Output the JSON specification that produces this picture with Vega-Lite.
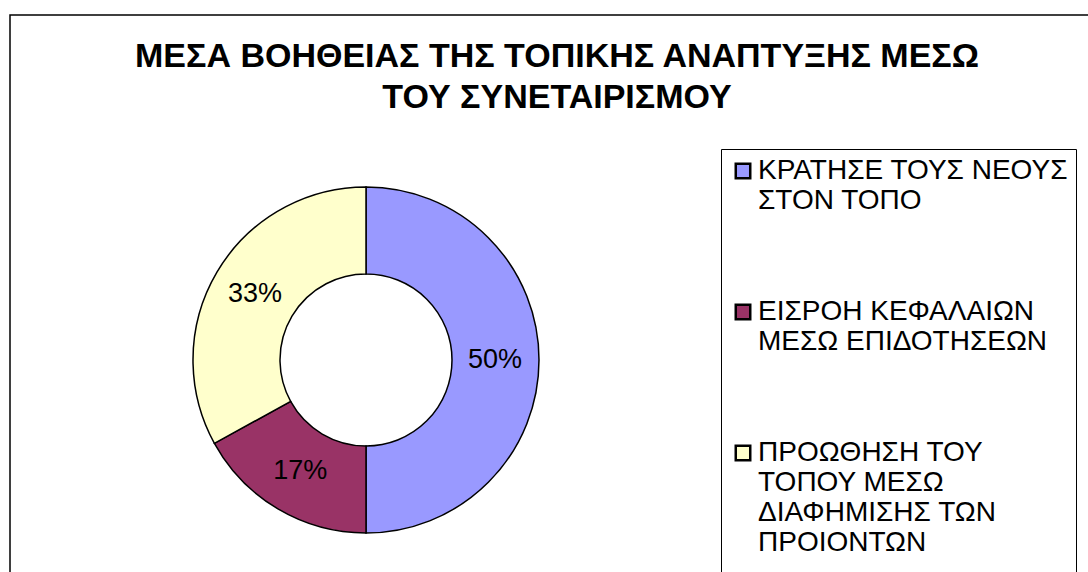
{
  "$schema": "https://vega.github.io/schema/vega-lite/v6.json",
  "autosize": {"type": "none"},
  "padding": {"left": 10, "top": 15, "right": -20, "bottom": -20},
  "width": 1098,
  "height": 577,
  "background": "white",
  "view": {"stroke": "#000", "strokeWidth": 1.5},
  "config": {"view": {"stroke": "#000", "strokeWidth": 1.5}, "font": "Liberation Sans"},
  "title": {
    "text": ["ΜΕΣΑ ΒΟΗΘΕΙΑΣ ΤΗΣ ΤΟΠΙΚΗΣ ΑΝΑΠΤΥΞΗΣ ΜΕΣΩ", "ΤΟΥ ΣΥΝΕΤΑΙΡΙΣΜΟΥ"],
    "font": "Liberation Sans",
    "fontSize": 34,
    "fontWeight": "bold",
    "color": "#000",
    "anchor": "middle",
    "dx": -2,
    "offset": -100,
    "lineHeight": 41
  },
  "data": {
    "values": [
      {"category": "ΚΡΑΤΗΣΕ ΤΟΥΣ ΝΕΟΥΣ|ΣΤΟΝ ΤΟΠΟ", "value": 0.50, "k": 1},
      {"category": "ΕΙΣΡΟΗ ΚΕΦΑΛΑΙΩΝ|ΜΕΣΩ ΕΠΙΔΟΤΗΣΕΩΝ", "value": 0.17, "k": 2},
      {"category": "ΠΡΟΩΘΗΣΗ ΤΟΥ|ΤΟΠΟΥ ΜΕΣΩ|ΔΙΑΦΗΜΙΣΗΣ ΤΩΝ|ΠΡΟΙΟΝΤΩΝ", "value": 0.33, "k": 3}
    ]
  },
  "encoding": {
    "theta": {"field": "value", "type": "quantitative", "stack": true},
    "order": {"field": "k", "type": "ordinal"}
  },
  "layer": [
    {
      "mark": {"type": "arc", "x": 356, "y": 345, "outerRadius": 173, "innerRadius": 86, "stroke": "#000", "strokeWidth": 1.5},
      "encoding": {
        "color": {
          "field": "category",
          "type": "nominal",
          "sort": null,
          "scale": {
            "domain": ["ΚΡΑΤΗΣΕ ΤΟΥΣ ΝΕΟΥΣ|ΣΤΟΝ ΤΟΠΟ", "ΕΙΣΡΟΗ ΚΕΦΑΛΑΙΩΝ|ΜΕΣΩ ΕΠΙΔΟΤΗΣΕΩΝ", "ΠΡΟΩΘΗΣΗ ΤΟΥ|ΤΟΠΟΥ ΜΕΣΩ|ΔΙΑΦΗΜΙΣΗΣ ΤΩΝ|ΠΡΟΙΟΝΤΩΝ"],
            "range": ["#9999FF", "#993366", "#FFFFCC"]
          },
          "legend": {
            "title": null,
            "orient": "none",
            "legendX": 711,
            "legendY": 134,
            "padding": 8,
            "strokeColor": "#000",
            "fillColor": "#fff",
            "symbolType": "square",
            "symbolSize": 210,
            "symbolStrokeColor": "#000",
            "symbolStrokeWidth": 2.5,
            "symbolOpacity": 1,
            "labelFont": "Liberation Sans",
            "labelFontSize": 28,
            "labelColor": "#000",
            "labelLimit": 600,
            "labelOffset": 1,
            "rowPadding": 53,
            "labelExpr": "split(replace(datum.label, '|', '      |') + '| ', '|')"
          }
        }
      }
    },
    {
      "mark": {"type": "text", "x": 356, "y": 345, "radius": 129, "fontSize": 27, "font": "Liberation Sans"},
      "encoding": {
        "text": {"field": "value", "type": "quantitative", "format": ".0%"},
        "detail": {"field": "category", "type": "nominal"},
        "color": {"value": "#000"}
      }
    }
  ]
}
